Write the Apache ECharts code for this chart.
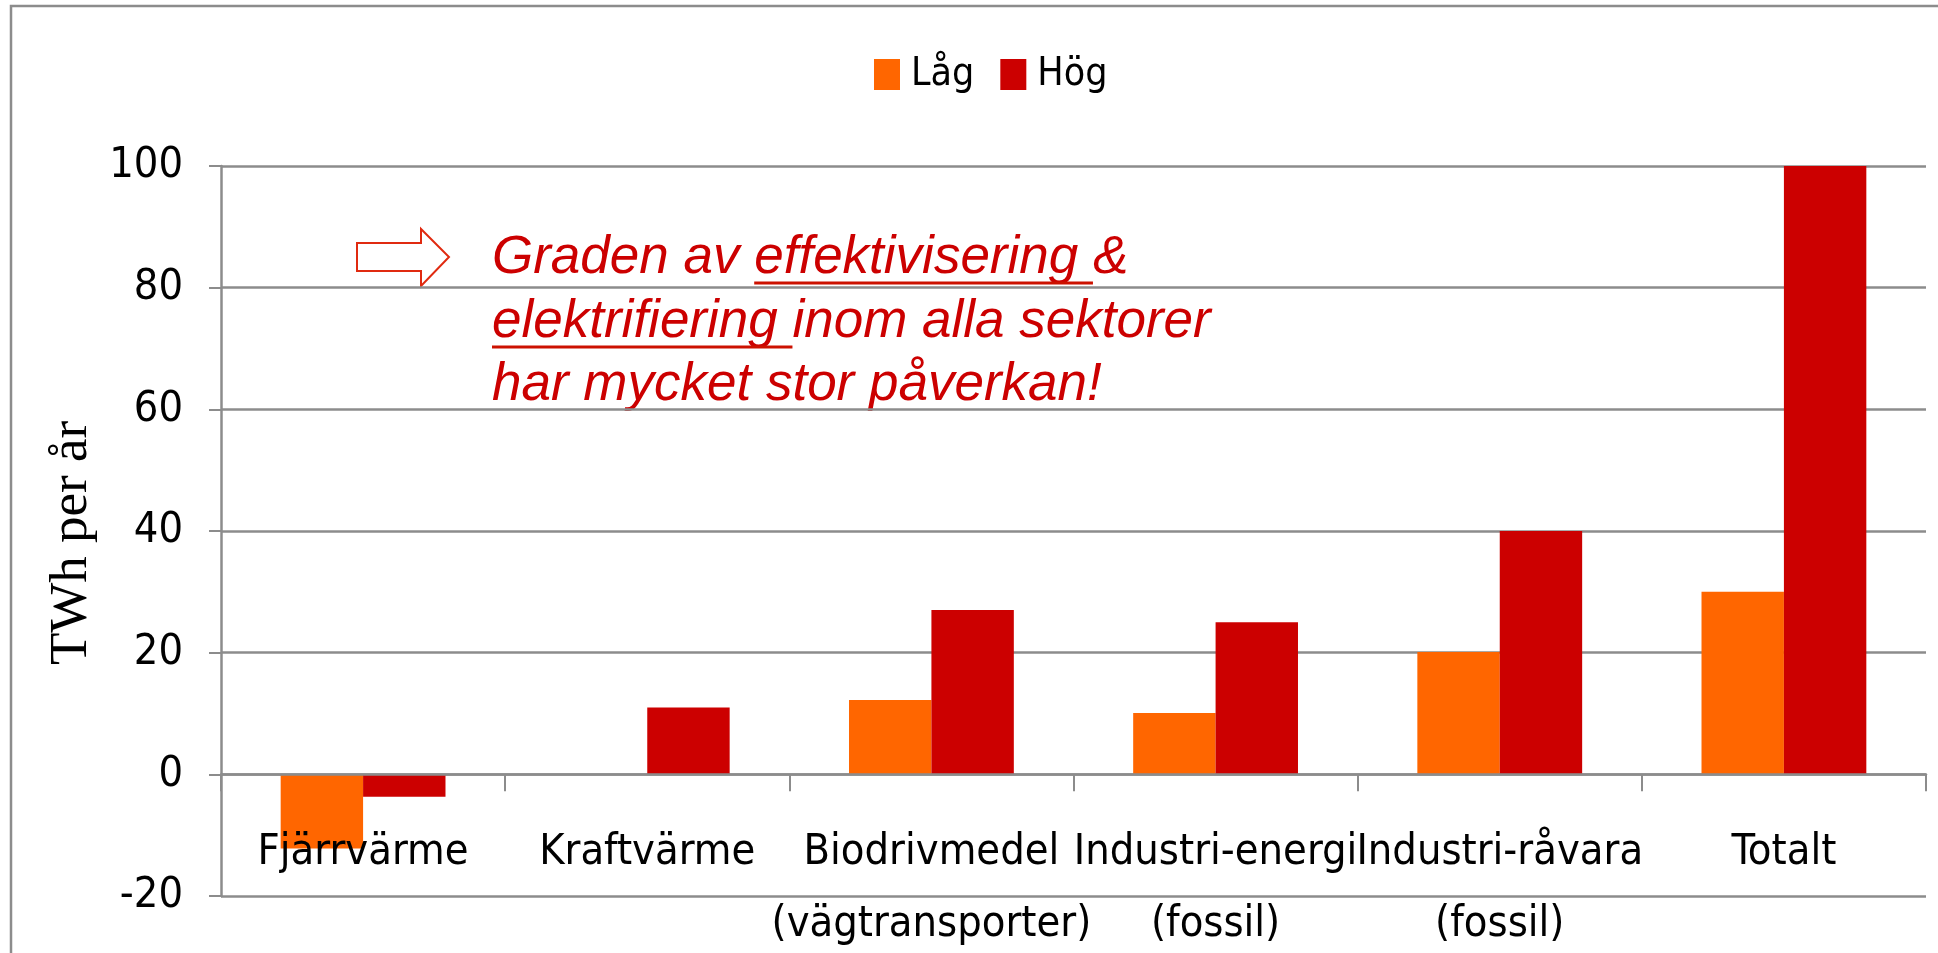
<!DOCTYPE html>
<html>
<head>
<meta charset="utf-8">
<script src="https://cdn.jsdelivr.net/npm/echarts@6/dist/echarts.min.js"></script>
<style>
  html, body { margin: 0; padding: 0; background: #fff; }
  #chart { width: 1938px; height: 953px; }
</style>
</head>
<body>
<div id="chart"></div>
<script>
// sektorer och värden (TWh per år)
var categories = ['Fjärrvärme', 'Kraftvärme', 'Biodrivmedel\n(vägtransporter)',
  'Industri-energi\n(fossil)', 'Industri-råvara\n(fossil)', 'Totalt']
var lagValues = [-12.2, 0, 12.2, 10.1, 20.1, 30]
var hogValues = [-3.7, 11, 27, 25, 40, 100]
var yTicks = [-20, 0, 20, 40, 60, 80, 100]

var noteLines = ['Graden av effektivisering &', 'elektrifiering inom alla sektorer', 'har mycket stor påverkan!']

var GRAY = '#8c8c8c'
var NARROW = '"Liberation Sans Narrow", "DejaVu Sans Condensed", sans-serif'
var NOTE_FONT = 'italic 53px "Liberation Sans", Arial, sans-serif'

// mät textbredd för understrykningarna
var ctx = document.createElement('canvas').getContext('2d')
ctx.font = NOTE_FONT
function w (s) { return ctx.measureText(s).width }

var gridTop = 166, gridBottom = 57
var plotH = 953 - gridTop - gridBottom
// x-axeln ligger vid 0, flytta upp den från gridens nederkant
var zeroOffset = plotH * (0 - yTicks[0]) / (yTicks[yTicks.length - 1] - yTicks[0])

var noteX = 492
var baselines = [276, 340, 403]
var graphics = [
  // ram runt diagrammet
  {type: 'rect', shape: {x: 11, y: 6, width: 3000, height: 3000},
    style: {fill: 'none', stroke: GRAY, lineWidth: 2.5}, silent: true},
  // pil
  {type: 'polygon', shape: {points: [[357, 243], [421, 243], [421, 229], [449, 257], [421, 286], [421, 271], [357, 271]]},
    style: {fill: '#fff', stroke: '#e02a10', lineWidth: 2}}
]
noteLines.forEach(function (line, i) {
  graphics.push({type: 'text', x: noteX, y: baselines[i] - 18,
    style: {text: line, font: NOTE_FONT, fill: '#cc0000', verticalAlign: 'middle', align: 'left'}})
})
// understrykningar
var u1 = noteX + w('Graden av ')
graphics.push({type: 'line', shape: {x1: u1, y1: baselines[0] + 7, x2: u1 + w('effektivisering '), y2: baselines[0] + 7},
  style: {stroke: '#cc1100', lineWidth: 3}})
graphics.push({type: 'line', shape: {x1: noteX, y1: baselines[1] + 7, x2: noteX + w('elektrifiering '), y2: baselines[1] + 7},
  style: {stroke: '#cc1100', lineWidth: 3}})

var chart = echarts.init(document.getElementById('chart'))
chart.setOption({
  animation: false,
  grid: {left: 221, right: 12, top: gridTop, bottom: gridBottom, containLabel: false, outerBoundsMode: 'none'},
  legend: {
    left: 869, top: 50,
    itemWidth: 26, itemHeight: 31, itemGap: 26,
    icon: 'rect',
    textStyle: {fontFamily: NARROW, fontSize: 39, color: '#000', padding: [0, 0, 0, 6]},
    data: ['Låg', 'Hög']
  },
  xAxis: {
    type: 'category',
    data: categories,
    offset: -zeroOffset,
    z: 5,
    axisLine: {onZero: false, lineStyle: {color: GRAY, width: 2.5}},
    axisTick: {show: true, length: 17, lineStyle: {color: GRAY, width: 2}},
    axisLabel: {interval: 0, margin: 42, fontFamily: NARROW, fontSize: 43, lineHeight: 72, color: '#000'}
  },
  yAxis: {
    type: 'value',
    min: yTicks[0], max: yTicks[yTicks.length - 1], interval: 20,
    name: 'TWh per år',
    nameLocation: 'middle',
    nameGap: 107,
    nameTextStyle: {fontFamily: '"Liberation Serif", "Times New Roman", serif', fontSize: 53, color: '#000', padding: [0, 24, 0, 0]},
    axisLine: {show: true, lineStyle: {color: GRAY, width: 2.5}},
    axisTick: {show: true, length: 12, lineStyle: {color: GRAY, width: 2}},
    axisLabel: {margin: 38, fontFamily: NARROW, fontSize: 43, color: '#000'},
    splitLine: {lineStyle: {color: GRAY, width: 2.5}}
  },
  series: [
    {name: 'Låg', type: 'bar', data: lagValues, itemStyle: {color: '#ff6600'}, barGap: '0%', barCategoryGap: '42%'},
    {name: 'Hög', type: 'bar', data: hogValues, itemStyle: {color: '#cc0000'}}
  ],
  graphic: graphics
})
</script>
</body>
</html>
